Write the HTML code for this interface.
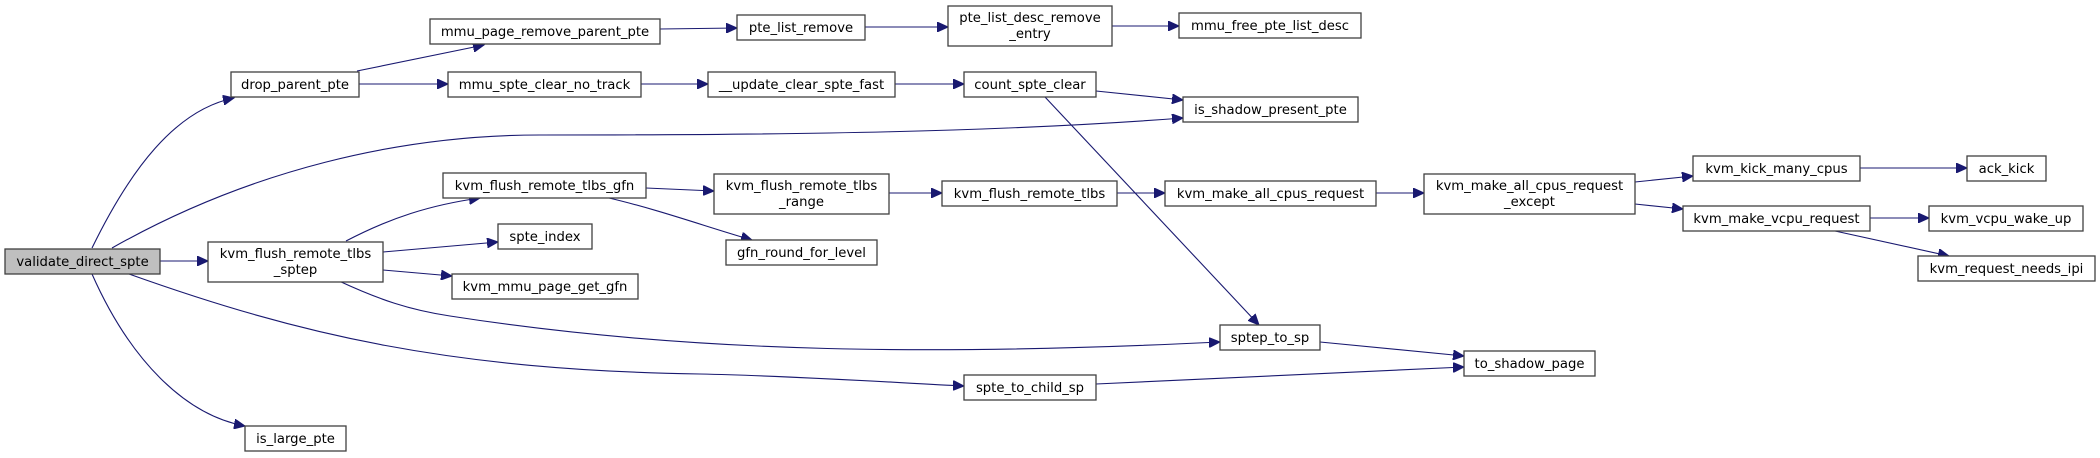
<!DOCTYPE html>
<html><head><meta charset="utf-8"><style>
html,body{margin:0;padding:0;background:#fff;}
svg{display:block;}
text{font-family:"DejaVu Sans","Liberation Sans",sans-serif;font-size:13.2px;fill:#000;text-anchor:middle;}
.n{fill:#fff;stroke:#404040;stroke-width:1.3;}
.e{fill:none;stroke:#191970;stroke-width:1.1;}
</style></head><body>
<svg width="2100" height="458" viewBox="0 0 2100 458" xmlns="http://www.w3.org/2000/svg">
<defs>
<marker id="a" markerUnits="userSpaceOnUse" markerWidth="12" markerHeight="10" refX="11" refY="5" orient="auto">
<path d="M0,0 L11,5 L0,10 Z" fill="#191970" stroke="#191970"/>
</marker>
</defs>
<g marker-end="url(#a)">
<path class="e" d="M92,248 C130,170 175,110 234,98"/>
<path class="e" d="M112,248 C250,170 400,135 540,135 C800,135 1000,132 1183,118"/>
<path class="e" d="M160,261 L208,261"/>
<path class="e" d="M129,274 C300,335 450,370 700,374 C800,376 900,383 964,386"/>
<path class="e" d="M92,274 C130,360 185,415 245,426"/>
<path class="e" d="M357,71 L484,45"/>
<path class="e" d="M359,84 L448,84"/>
<path class="e" d="M660,29 L737,28"/>
<path class="e" d="M865,27 L948,27"/>
<path class="e" d="M1112,26 L1179,26"/>
<path class="e" d="M641,84 L708,84"/>
<path class="e" d="M895,84 L964,84"/>
<path class="e" d="M1096,91 L1183,100"/>
<path class="e" d="M1045,97 L1259,325"/>
<path class="e" d="M346,241 C390,218 430,205 480,198"/>
<path class="e" d="M383,252 L498,242"/>
<path class="e" d="M383,270 L452,276"/>
<path class="e" d="M339,281 C380,300 410,310 450,316 C700,355 950,355 1220,342"/>
<path class="e" d="M646,188 L714,191"/>
<path class="e" d="M609,198 C660,210 710,228 752,240"/>
<path class="e" d="M889,193 L942,193"/>
<path class="e" d="M1117,193 L1165,193"/>
<path class="e" d="M1376,193 L1424,193"/>
<path class="e" d="M1635,182 L1693,176"/>
<path class="e" d="M1635,204 L1683,209"/>
<path class="e" d="M1860,168 L1967,168"/>
<path class="e" d="M1870,218 L1929,218"/>
<path class="e" d="M1835,231 L1949,256"/>
<path class="e" d="M1320,342 L1464,356"/>
<path class="e" d="M1096,384 L1464,367"/>
</g>
<rect x="5" y="249" width="155" height="25" fill="#bfbfbf" stroke="#404040" stroke-width="1.3"/>
<text x="82.5" y="266">validate_direct_spte</text>
<rect class="n" x="231" y="72" width="128" height="25"/><text x="295" y="89">drop_parent_pte</text>
<rect class="n" x="430" y="19" width="230" height="25"/><text x="545" y="36">mmu_page_remove_parent_pte</text>
<rect class="n" x="448" y="72" width="193" height="25"/><text x="544.5" y="89">mmu_spte_clear_no_track</text>
<rect class="n" x="443" y="173" width="203" height="25"/><text x="544.5" y="190">kvm_flush_remote_tlbs_gfn</text>
<rect class="n" x="498" y="224" width="94" height="25"/><text x="545" y="241">spte_index</text>
<rect class="n" x="208" y="242" width="175" height="40"/><text x="295.5" y="258">kvm_flush_remote_tlbs</text><text x="295.5" y="274">_sptep</text>
<rect class="n" x="452" y="274" width="186" height="25"/><text x="545" y="291">kvm_mmu_page_get_gfn</text>
<rect class="n" x="245" y="426" width="101" height="25"/><text x="295.5" y="443">is_large_pte</text>
<rect class="n" x="737" y="15" width="128" height="25"/><text x="801" y="32">pte_list_remove</text>
<rect class="n" x="948" y="6" width="164" height="40"/><text x="1030" y="22">pte_list_desc_remove</text><text x="1030" y="38">_entry</text>
<rect class="n" x="1179" y="13" width="182" height="25"/><text x="1270" y="30">mmu_free_pte_list_desc</text>
<rect class="n" x="708" y="72" width="187" height="25"/><text x="801.5" y="89">__update_clear_spte_fast</text>
<rect class="n" x="964" y="72" width="132" height="25"/><text x="1030" y="89">count_spte_clear</text>
<rect class="n" x="1183" y="97" width="175" height="25"/><text x="1270.5" y="114">is_shadow_present_pte</text>
<rect class="n" x="714" y="174" width="175" height="40"/><text x="801.5" y="190">kvm_flush_remote_tlbs</text><text x="801.5" y="206">_range</text>
<rect class="n" x="942" y="181" width="175" height="25"/><text x="1029.5" y="198">kvm_flush_remote_tlbs</text>
<rect class="n" x="1165" y="181" width="211" height="25"/><text x="1270.5" y="198">kvm_make_all_cpus_request</text>
<rect class="n" x="726" y="240" width="151" height="25"/><text x="801.5" y="257">gfn_round_for_level</text>
<rect class="n" x="1220" y="325" width="100" height="25"/><text x="1270" y="342">sptep_to_sp</text>
<rect class="n" x="964" y="375" width="132" height="25"/><text x="1030" y="392">spte_to_child_sp</text>
<rect class="n" x="1424" y="174" width="211" height="40"/><text x="1529.5" y="190">kvm_make_all_cpus_request</text><text x="1529.5" y="206">_except</text>
<rect class="n" x="1693" y="156" width="167" height="25"/><text x="1776.5" y="173">kvm_kick_many_cpus</text>
<rect class="n" x="1967" y="156" width="79" height="25"/><text x="2006.5" y="173">ack_kick</text>
<rect class="n" x="1683" y="206" width="187" height="25"/><text x="1776.5" y="223">kvm_make_vcpu_request</text>
<rect class="n" x="1929" y="206" width="154" height="25"/><text x="2006" y="223">kvm_vcpu_wake_up</text>
<rect class="n" x="1918" y="256" width="177" height="25"/><text x="2006.5" y="273">kvm_request_needs_ipi</text>
<rect class="n" x="1464" y="351" width="131" height="25"/><text x="1529.5" y="368">to_shadow_page</text>
</svg>
</body></html>
